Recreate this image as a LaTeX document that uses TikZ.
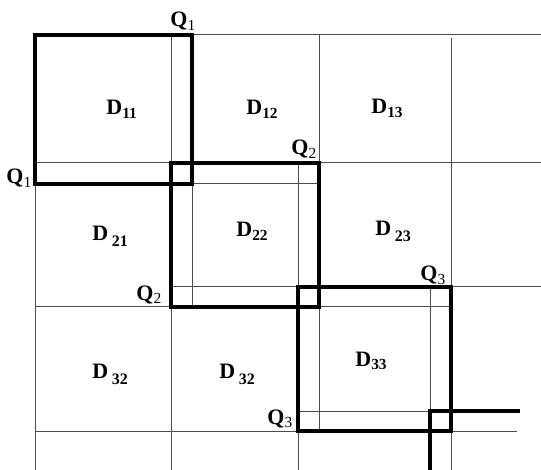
\documentclass[tikz,border=0pt]{standalone}
\usepackage{fontspec}
\setmainfont{Liberation Serif}
\usepackage{tikz}

\newcommand{\dlab}[1]{\textbf{D\textsubscript{#1}}}
\newcommand{\dlabsp}[1]{\textbf{D}\,\raisebox{-0.55ex}{\bfseries\footnotesize #1}}
\newcommand{\qlab}[1]{\textbf{Q}\textsubscript{#1}}

\begin{document}
\begin{tikzpicture}[
        x=0.5pt,
        y=-0.5pt,
        font=\fontsize{11}{13}\selectfont,
        gridline/.style={black!70, line width=0.5pt},
        block/.style={black, line width=1.7pt},
        lab/.style={inner sep=0pt, anchor=base west}
    ]
        \useasboundingbox (0,0) rectangle (541,470);

        \foreach \x/\ya/\yb in {35/35/470, 171/35/470, 192/35/307, 298/163/470, 319/35/431, 430/287/470, 451/38/470} {
            \draw[gridline] (\x,\ya) -- (\x,\yb);
        }
        \foreach \y/\xa/\xb in {35/35/541, 163/35/541, 184/35/319, 287/172/541, 307/35/451, 411/298/520, 431/35/517} {
            \draw[gridline] (\xa,\y) -- (\xb,\y);
        }

        \draw[block] (35,35) rectangle (192,184);
        \draw[block] (171,163) rectangle (319,307);
        \draw[block] (298,287) rectangle (451,431);
        \draw[block] (430,470) -- (430,411) -- (520,411);

        \node[lab] (d11) at (106,115) {\dlab{11}};
        \node[lab] (d12) at (246,115) {\dlab{12}};
        \node[lab] (d13) at (371,114) {\dlab{13}};
        \node[lab] (d21) at (92,241) {\dlabsp{21}};
        \node[lab] (d22) at (236,237) {\dlab{22}};
        \node[lab] (d23) at (375,236) {\dlabsp{23}};
        \node[lab] (d31) at (92,379) {\dlabsp{32}};
        \node[lab] (d32) at (219,379) {\dlabsp{32}};
        \node[lab] (d33) at (355,366) {\dlab{33}};

        \node[lab] (q1top) at (170,27) {\qlab{1}};
        \node[lab] (q1left) at (6,184) {\qlab{1}};
        \node[lab] (q2top) at (291,155) {\qlab{2}};
        \node[lab] (q2left) at (136,300) {\qlab{2}};
        \node[lab] (q3top) at (420,281) {\qlab{3}};
        \node[lab] (q3left) at (267,424) {\qlab{3}};
    \end{tikzpicture}
\end{document}
